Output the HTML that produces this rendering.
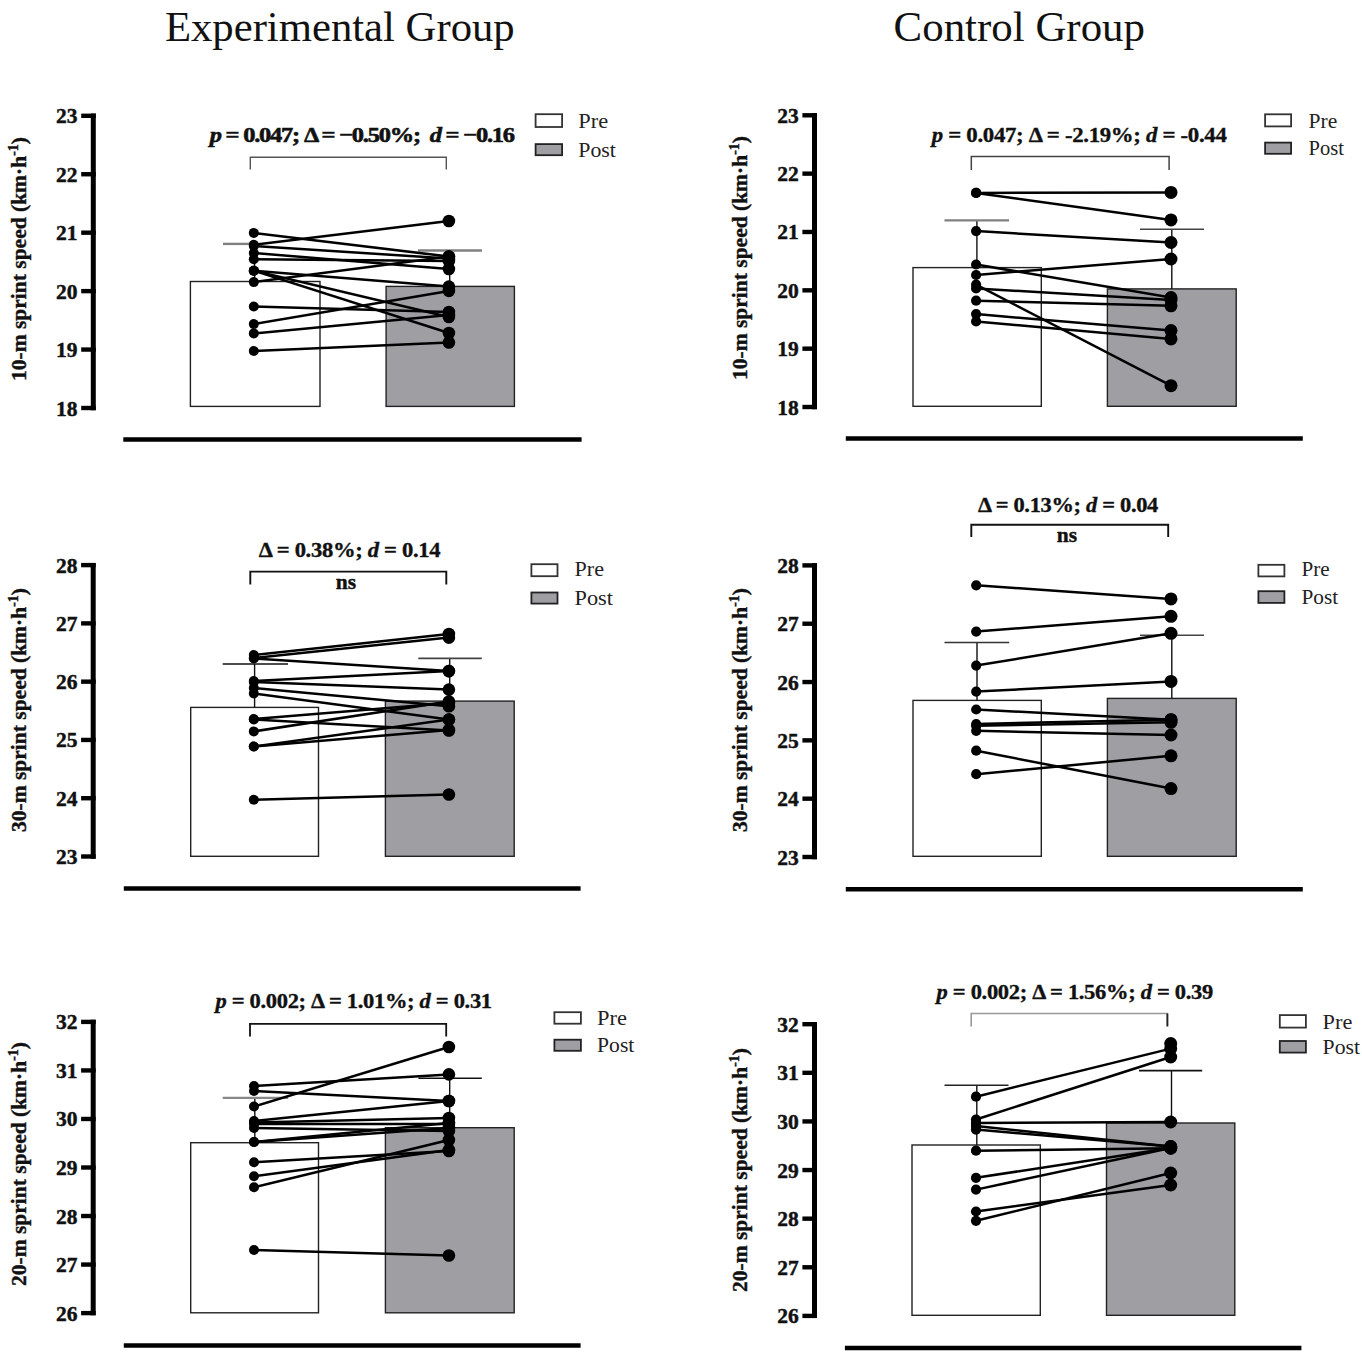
<!DOCTYPE html><html><head><meta charset="utf-8"><title>Sprint speed</title><style>html,body{margin:0;padding:0;background:#fff;width:1362px;height:1352px;overflow:hidden}svg{display:block}text{font-family:"Liberation Serif",serif}</style></head><body>
<svg width="1362" height="1352" viewBox="0 0 1362 1352">
<rect x="0" y="0" width="1362" height="1352" fill="#fff"/>
<text x="164.9" y="40.5" font-size="42.5" textLength="349.8" lengthAdjust="spacingAndGlyphs" fill="#111">Experimental Group</text>
<text x="893.6" y="40.7" font-size="42.5" textLength="251.4" lengthAdjust="spacingAndGlyphs" fill="#111">Control Group</text>
<g><rect x="190.4" y="281.5" width="129.6" height="124.9" fill="#fff" stroke="#222" stroke-width="1.4"/><rect x="386.1" y="286.4" width="128.3" height="120" fill="#9f9ea3" stroke="#222" stroke-width="1.4"/><path d="M254.6 243.9V281.5" stroke="#111" stroke-width="1.4" fill="none"/><path d="M223 243.9H254" stroke="#808080" stroke-width="2.4" fill="none"/><path d="M449.7 250.4V286.4" stroke="#111" stroke-width="1.4" fill="none"/><path d="M418 250.4H482" stroke="#808080" stroke-width="2.5" fill="none"/><line x1="253.8" y1="232.9" x2="448.9" y2="256.6" stroke="#000" stroke-width="2.5"/><line x1="253.8" y1="244.8" x2="448.9" y2="221" stroke="#000" stroke-width="2.5"/><line x1="253.8" y1="246" x2="448.9" y2="258.5" stroke="#000" stroke-width="2.5"/><line x1="253.8" y1="253" x2="448.9" y2="269" stroke="#000" stroke-width="2.5"/><line x1="253.8" y1="259.3" x2="448.9" y2="261" stroke="#000" stroke-width="2.5"/><line x1="253.8" y1="270.7" x2="448.9" y2="286.6" stroke="#000" stroke-width="2.5"/><line x1="253.8" y1="270.7" x2="448.9" y2="317" stroke="#000" stroke-width="2.5"/><line x1="253.8" y1="270.7" x2="448.9" y2="333" stroke="#000" stroke-width="2.5"/><line x1="253.8" y1="282.1" x2="448.9" y2="256.6" stroke="#000" stroke-width="2.5"/><line x1="253.8" y1="306.5" x2="448.9" y2="312" stroke="#000" stroke-width="2.5"/><line x1="253.8" y1="324.1" x2="448.9" y2="290.9" stroke="#000" stroke-width="2.5"/><line x1="253.8" y1="333.4" x2="448.9" y2="315" stroke="#000" stroke-width="2.5"/><line x1="253.8" y1="351" x2="448.9" y2="342.5" stroke="#000" stroke-width="2.5"/><circle cx="253.8" cy="232.9" r="5"/><circle cx="448.9" cy="256.6" r="6.3"/><circle cx="253.8" cy="244.8" r="5"/><circle cx="448.9" cy="221" r="6.3"/><circle cx="253.8" cy="246" r="5"/><circle cx="448.9" cy="258.5" r="6.3"/><circle cx="253.8" cy="253" r="5"/><circle cx="448.9" cy="269" r="6.3"/><circle cx="253.8" cy="259.3" r="5"/><circle cx="448.9" cy="261" r="6.3"/><circle cx="253.8" cy="270.7" r="5"/><circle cx="448.9" cy="286.6" r="6.3"/><circle cx="253.8" cy="270.7" r="5"/><circle cx="448.9" cy="317" r="6.3"/><circle cx="253.8" cy="270.7" r="5"/><circle cx="448.9" cy="333" r="6.3"/><circle cx="253.8" cy="282.1" r="5"/><circle cx="448.9" cy="256.6" r="6.3"/><circle cx="253.8" cy="306.5" r="5"/><circle cx="448.9" cy="312" r="6.3"/><circle cx="253.8" cy="324.1" r="5"/><circle cx="448.9" cy="290.9" r="6.3"/><circle cx="253.8" cy="333.4" r="5"/><circle cx="448.9" cy="315" r="6.3"/><circle cx="253.8" cy="351" r="5"/><circle cx="448.9" cy="342.5" r="6.3"/><path d="M93.3 113.6V410.2" stroke="#000" stroke-width="5" fill="none"/><path d="M81.2 408H95.8" stroke="#000" stroke-width="4.4" fill="none"/><text x="77.5" y="415.5" font-size="21.5" font-weight="bold" text-anchor="end" fill="#111" stroke="#111" stroke-width="0.45">18</text><path d="M81.2 349.56H95.8" stroke="#000" stroke-width="4.4" fill="none"/><text x="77.5" y="357.06" font-size="21.5" font-weight="bold" text-anchor="end" fill="#111" stroke="#111" stroke-width="0.45">19</text><path d="M81.2 291.12H95.8" stroke="#000" stroke-width="4.4" fill="none"/><text x="77.5" y="298.62" font-size="21.5" font-weight="bold" text-anchor="end" fill="#111" stroke="#111" stroke-width="0.45">20</text><path d="M81.2 232.68H95.8" stroke="#000" stroke-width="4.4" fill="none"/><text x="77.5" y="240.18" font-size="21.5" font-weight="bold" text-anchor="end" fill="#111" stroke="#111" stroke-width="0.45">21</text><path d="M81.2 174.24H95.8" stroke="#000" stroke-width="4.4" fill="none"/><text x="77.5" y="181.74" font-size="21.5" font-weight="bold" text-anchor="end" fill="#111" stroke="#111" stroke-width="0.45">22</text><path d="M81.2 115.8H95.8" stroke="#000" stroke-width="4.4" fill="none"/><text x="77.5" y="123.3" font-size="21.5" font-weight="bold" text-anchor="end" fill="#111" stroke="#111" stroke-width="0.45">23</text><text transform="translate(26 259) rotate(-90)" font-size="21.5" font-weight="bold" text-anchor="middle" fill="#111" stroke="#111" stroke-width="0.4">10-m sprint speed (km·h<tspan dy="-8" font-size="14">-1</tspan><tspan dy="8">)</tspan></text><path d="M250.3 169.4V157.3H446.3V169.4" stroke="#555" stroke-width="1.4" fill="none"/><text x="209.7" y="141.5" font-size="22" font-weight="bold" stroke="#111" stroke-width="0.6" letter-spacing="-1.1" textLength="304.1" lengthAdjust="spacingAndGlyphs" fill="#111" xml:space="preserve"><tspan font-style="italic">p</tspan> = 0.047; Δ = −0.50%;  <tspan font-style="italic">d</tspan> = −0.16</text><rect x="535.6" y="114.2" width="26.5" height="12.8" fill="#fff" stroke="#333" stroke-width="1.8"/><rect x="535.6" y="144.1" width="26.5" height="11.1" fill="#9f9ea3" stroke="#222" stroke-width="1.8"/><text x="578.3" y="127.9" font-size="21.5" textLength="29.9" lengthAdjust="spacingAndGlyphs" fill="#222">Pre</text><text x="578.3" y="156.5" font-size="21.5" textLength="37.6" lengthAdjust="spacingAndGlyphs" fill="#222">Post</text><path d="M123.3 439.5H581.6" stroke="#000" stroke-width="4.5" fill="none"/></g>
<g><rect x="913" y="267.6" width="128.3" height="138.7" fill="#fff" stroke="#222" stroke-width="1.4"/><rect x="1107.4" y="288.9" width="128.8" height="117.4" fill="#9f9ea3" stroke="#222" stroke-width="1.4"/><path d="M976.9 220.4V267.6" stroke="#111" stroke-width="1.4" fill="none"/><path d="M944.5 220.4H1009" stroke="#808080" stroke-width="2.3" fill="none"/><path d="M1171.8 229.2V288.9" stroke="#111" stroke-width="1.4" fill="none"/><path d="M1140 229.2H1204" stroke="#444" stroke-width="1.5" fill="none"/><line x1="976.1" y1="192.9" x2="1171" y2="192.4" stroke="#000" stroke-width="2.5"/><line x1="976.1" y1="192.9" x2="1171" y2="219.9" stroke="#000" stroke-width="2.5"/><line x1="976.1" y1="231.1" x2="1171" y2="242.5" stroke="#000" stroke-width="2.5"/><line x1="976.1" y1="264.5" x2="1171" y2="297.6" stroke="#000" stroke-width="2.5"/><line x1="976.1" y1="275" x2="1171" y2="259" stroke="#000" stroke-width="2.5"/><line x1="976.1" y1="284.7" x2="1171" y2="385.7" stroke="#000" stroke-width="2.5"/><line x1="976.1" y1="288.4" x2="1171" y2="300" stroke="#000" stroke-width="2.5"/><line x1="976.1" y1="300.7" x2="1171" y2="305.8" stroke="#000" stroke-width="2.5"/><line x1="976.1" y1="314.1" x2="1171" y2="330.6" stroke="#000" stroke-width="2.5"/><line x1="976.1" y1="321.4" x2="1171" y2="338.9" stroke="#000" stroke-width="2.5"/><circle cx="976.1" cy="192.9" r="5.1"/><circle cx="1171" cy="192.4" r="6.5"/><circle cx="976.1" cy="192.9" r="5.1"/><circle cx="1171" cy="219.9" r="6.5"/><circle cx="976.1" cy="231.1" r="5.1"/><circle cx="1171" cy="242.5" r="6.5"/><circle cx="976.1" cy="264.5" r="5.1"/><circle cx="1171" cy="297.6" r="6.5"/><circle cx="976.1" cy="275" r="5.1"/><circle cx="1171" cy="259" r="6.5"/><circle cx="976.1" cy="284.7" r="5.1"/><circle cx="1171" cy="385.7" r="6.5"/><circle cx="976.1" cy="288.4" r="5.1"/><circle cx="1171" cy="300" r="6.5"/><circle cx="976.1" cy="300.7" r="5.1"/><circle cx="1171" cy="305.8" r="6.5"/><circle cx="976.1" cy="314.1" r="5.1"/><circle cx="1171" cy="330.6" r="6.5"/><circle cx="976.1" cy="321.4" r="5.1"/><circle cx="1171" cy="338.9" r="6.5"/><path d="M814.5 113.1V409.2" stroke="#000" stroke-width="5" fill="none"/><path d="M802.4 407H817" stroke="#000" stroke-width="4.4" fill="none"/><text x="798.7" y="414.5" font-size="21.5" font-weight="bold" text-anchor="end" fill="#111" stroke="#111" stroke-width="0.45">18</text><path d="M802.4 348.66H817" stroke="#000" stroke-width="4.4" fill="none"/><text x="798.7" y="356.16" font-size="21.5" font-weight="bold" text-anchor="end" fill="#111" stroke="#111" stroke-width="0.45">19</text><path d="M802.4 290.32H817" stroke="#000" stroke-width="4.4" fill="none"/><text x="798.7" y="297.82" font-size="21.5" font-weight="bold" text-anchor="end" fill="#111" stroke="#111" stroke-width="0.45">20</text><path d="M802.4 231.98H817" stroke="#000" stroke-width="4.4" fill="none"/><text x="798.7" y="239.48" font-size="21.5" font-weight="bold" text-anchor="end" fill="#111" stroke="#111" stroke-width="0.45">21</text><path d="M802.4 173.64H817" stroke="#000" stroke-width="4.4" fill="none"/><text x="798.7" y="181.14" font-size="21.5" font-weight="bold" text-anchor="end" fill="#111" stroke="#111" stroke-width="0.45">22</text><path d="M802.4 115.3H817" stroke="#000" stroke-width="4.4" fill="none"/><text x="798.7" y="122.8" font-size="21.5" font-weight="bold" text-anchor="end" fill="#111" stroke="#111" stroke-width="0.45">23</text><text transform="translate(746.5 258) rotate(-90)" font-size="21.5" font-weight="bold" text-anchor="middle" fill="#111" stroke="#111" stroke-width="0.4">10-m sprint speed (km·h<tspan dy="-8" font-size="14">-1</tspan><tspan dy="8">)</tspan></text><path d="M971.3 170V156.6H1169.1V170" stroke="#444" stroke-width="1.5" fill="none"/><text x="931.8" y="141.8" font-size="21" font-weight="bold" stroke="#111" stroke-width="0.35" letter-spacing="-0.3" textLength="294.7" lengthAdjust="spacingAndGlyphs" fill="#111" xml:space="preserve"><tspan font-style="italic">p</tspan> = 0.047; Δ = -2.19%; <tspan font-style="italic">d</tspan> = -0.44</text><rect x="1265.1" y="114.3" width="26" height="12.1" fill="#fff" stroke="#333" stroke-width="1.8"/><rect x="1265.1" y="142.6" width="26" height="11.2" fill="#9f9ea3" stroke="#222" stroke-width="1.8"/><text x="1308.5" y="127.8" font-size="21.5" textLength="28.7" lengthAdjust="spacingAndGlyphs" fill="#222">Pre</text><text x="1308.5" y="155.1" font-size="21.5" textLength="35.4" lengthAdjust="spacingAndGlyphs" fill="#222">Post</text><path d="M845.8 438.6H1302.8" stroke="#000" stroke-width="4.5" fill="none"/></g>
<g><rect x="190.7" y="707.4" width="127.8" height="148.9" fill="#fff" stroke="#222" stroke-width="1.4"/><rect x="385.4" y="701.1" width="128.8" height="155.2" fill="#9f9ea3" stroke="#222" stroke-width="1.4"/><path d="M254.6 664V707.4" stroke="#111" stroke-width="1.4" fill="none"/><path d="M222.7 664H288" stroke="#111" stroke-width="1.5" fill="none"/><path d="M449.7 658.4V701.1" stroke="#111" stroke-width="1.4" fill="none"/><path d="M418.3 658.4H481.8" stroke="#444" stroke-width="1.6" fill="none"/><line x1="253.8" y1="655" x2="448.9" y2="634" stroke="#000" stroke-width="2.5"/><line x1="253.8" y1="658" x2="448.9" y2="637.6" stroke="#000" stroke-width="2.5"/><line x1="253.8" y1="658.5" x2="448.9" y2="671.1" stroke="#000" stroke-width="2.5"/><line x1="253.8" y1="681" x2="448.9" y2="671.1" stroke="#000" stroke-width="2.5"/><line x1="253.8" y1="682" x2="448.9" y2="689.6" stroke="#000" stroke-width="2.5"/><line x1="253.8" y1="688" x2="448.9" y2="706.3" stroke="#000" stroke-width="2.5"/><line x1="253.8" y1="693.5" x2="448.9" y2="719.6" stroke="#000" stroke-width="2.5"/><line x1="253.8" y1="719" x2="448.9" y2="703" stroke="#000" stroke-width="2.5"/><line x1="253.8" y1="719.5" x2="448.9" y2="730.5" stroke="#000" stroke-width="2.5"/><line x1="253.8" y1="731.4" x2="448.9" y2="701.5" stroke="#000" stroke-width="2.5"/><line x1="253.8" y1="746.5" x2="448.9" y2="719.6" stroke="#000" stroke-width="2.5"/><line x1="253.8" y1="746.5" x2="448.9" y2="730" stroke="#000" stroke-width="2.5"/><line x1="253.8" y1="799.7" x2="448.9" y2="794.5" stroke="#000" stroke-width="2.5"/><circle cx="253.8" cy="655" r="5"/><circle cx="448.9" cy="634" r="6.3"/><circle cx="253.8" cy="658" r="5"/><circle cx="448.9" cy="637.6" r="6.3"/><circle cx="253.8" cy="658.5" r="5"/><circle cx="448.9" cy="671.1" r="6.3"/><circle cx="253.8" cy="681" r="5"/><circle cx="448.9" cy="671.1" r="6.3"/><circle cx="253.8" cy="682" r="5"/><circle cx="448.9" cy="689.6" r="6.3"/><circle cx="253.8" cy="688" r="5"/><circle cx="448.9" cy="706.3" r="6.3"/><circle cx="253.8" cy="693.5" r="5"/><circle cx="448.9" cy="719.6" r="6.3"/><circle cx="253.8" cy="719" r="5"/><circle cx="448.9" cy="703" r="6.3"/><circle cx="253.8" cy="719.5" r="5"/><circle cx="448.9" cy="730.5" r="6.3"/><circle cx="253.8" cy="731.4" r="5"/><circle cx="448.9" cy="701.5" r="6.3"/><circle cx="253.8" cy="746.5" r="5"/><circle cx="448.9" cy="719.6" r="6.3"/><circle cx="253.8" cy="746.5" r="5"/><circle cx="448.9" cy="730" r="6.3"/><circle cx="253.8" cy="799.7" r="5"/><circle cx="448.9" cy="794.5" r="6.3"/><path d="M93.2 562.9V858.7" stroke="#000" stroke-width="5" fill="none"/><path d="M81.1 856.5H95.7" stroke="#000" stroke-width="4.4" fill="none"/><text x="77.4" y="864" font-size="21.5" font-weight="bold" text-anchor="end" fill="#111" stroke="#111" stroke-width="0.45">23</text><path d="M81.1 798.22H95.7" stroke="#000" stroke-width="4.4" fill="none"/><text x="77.4" y="805.72" font-size="21.5" font-weight="bold" text-anchor="end" fill="#111" stroke="#111" stroke-width="0.45">24</text><path d="M81.1 739.94H95.7" stroke="#000" stroke-width="4.4" fill="none"/><text x="77.4" y="747.44" font-size="21.5" font-weight="bold" text-anchor="end" fill="#111" stroke="#111" stroke-width="0.45">25</text><path d="M81.1 681.66H95.7" stroke="#000" stroke-width="4.4" fill="none"/><text x="77.4" y="689.16" font-size="21.5" font-weight="bold" text-anchor="end" fill="#111" stroke="#111" stroke-width="0.45">26</text><path d="M81.1 623.38H95.7" stroke="#000" stroke-width="4.4" fill="none"/><text x="77.4" y="630.88" font-size="21.5" font-weight="bold" text-anchor="end" fill="#111" stroke="#111" stroke-width="0.45">27</text><path d="M81.1 565.1H95.7" stroke="#000" stroke-width="4.4" fill="none"/><text x="77.4" y="572.6" font-size="21.5" font-weight="bold" text-anchor="end" fill="#111" stroke="#111" stroke-width="0.45">28</text><text transform="translate(26 710) rotate(-90)" font-size="21.5" font-weight="bold" text-anchor="middle" fill="#111" stroke="#111" stroke-width="0.4">30-m sprint speed (km·h<tspan dy="-8" font-size="14">-1</tspan><tspan dy="8">)</tspan></text><path d="M250.3 584.6V571.6H446.3V584.6" stroke="#111" stroke-width="1.9" fill="none"/><text x="258.8" y="557.2" font-size="21" font-weight="bold" stroke="#111" stroke-width="0.35" letter-spacing="-0.3" textLength="181.5" lengthAdjust="spacingAndGlyphs" fill="#111" xml:space="preserve">Δ = 0.38%; <tspan font-style="italic">d</tspan> = 0.14</text><text x="346" y="588.9" font-size="21.5" font-weight="bold" stroke="#111" stroke-width="0.4" text-anchor="middle" fill="#111">ns</text><rect x="531.4" y="564.2" width="26.1" height="12" fill="#fff" stroke="#333" stroke-width="1.8"/><rect x="531.4" y="592.5" width="26.1" height="11.1" fill="#9f9ea3" stroke="#222" stroke-width="1.8"/><text x="574.5" y="576.3" font-size="21.5" textLength="29.5" lengthAdjust="spacingAndGlyphs" fill="#222">Pre</text><text x="574.5" y="604.5" font-size="21.5" textLength="38.4" lengthAdjust="spacingAndGlyphs" fill="#222">Post</text><path d="M123.8 888.4H580.6" stroke="#000" stroke-width="4.5" fill="none"/></g>
<g><rect x="913" y="700.4" width="128.3" height="155.9" fill="#fff" stroke="#222" stroke-width="1.4"/><rect x="1107.4" y="698.4" width="128.8" height="157.9" fill="#9f9ea3" stroke="#222" stroke-width="1.4"/><path d="M977 642.5V700.4" stroke="#111" stroke-width="1.4" fill="none"/><path d="M944.5 642.5H1009.2" stroke="#333" stroke-width="1.6" fill="none"/><path d="M1171.8 635.2V698.4" stroke="#111" stroke-width="1.4" fill="none"/><path d="M1140 635.2H1204" stroke="#444" stroke-width="1.5" fill="none"/><line x1="976.2" y1="585.3" x2="1171" y2="598.9" stroke="#000" stroke-width="2.5"/><line x1="976.2" y1="631.6" x2="1171" y2="616.3" stroke="#000" stroke-width="2.5"/><line x1="976.2" y1="665.6" x2="1171" y2="633.3" stroke="#000" stroke-width="2.5"/><line x1="976.2" y1="691.6" x2="1171" y2="681.4" stroke="#000" stroke-width="2.5"/><line x1="976.2" y1="709.5" x2="1171" y2="719.7" stroke="#000" stroke-width="2.5"/><line x1="976.2" y1="724" x2="1171" y2="719.7" stroke="#000" stroke-width="2.5"/><line x1="976.2" y1="725.7" x2="1171" y2="722.3" stroke="#000" stroke-width="2.5"/><line x1="976.2" y1="730.8" x2="1171" y2="735" stroke="#000" stroke-width="2.5"/><line x1="976.2" y1="750.7" x2="1171" y2="788.6" stroke="#000" stroke-width="2.5"/><line x1="976.2" y1="774.2" x2="1171" y2="755.8" stroke="#000" stroke-width="2.5"/><circle cx="976.2" cy="585.3" r="5.1"/><circle cx="1171" cy="598.9" r="6.5"/><circle cx="976.2" cy="631.6" r="5.1"/><circle cx="1171" cy="616.3" r="6.5"/><circle cx="976.2" cy="665.6" r="5.1"/><circle cx="1171" cy="633.3" r="6.5"/><circle cx="976.2" cy="691.6" r="5.1"/><circle cx="1171" cy="681.4" r="6.5"/><circle cx="976.2" cy="709.5" r="5.1"/><circle cx="1171" cy="719.7" r="6.5"/><circle cx="976.2" cy="724" r="5.1"/><circle cx="1171" cy="719.7" r="6.5"/><circle cx="976.2" cy="725.7" r="5.1"/><circle cx="1171" cy="722.3" r="6.5"/><circle cx="976.2" cy="730.8" r="5.1"/><circle cx="1171" cy="735" r="6.5"/><circle cx="976.2" cy="750.7" r="5.1"/><circle cx="1171" cy="788.6" r="6.5"/><circle cx="976.2" cy="774.2" r="5.1"/><circle cx="1171" cy="755.8" r="6.5"/><path d="M814.5 563.2V859.2" stroke="#000" stroke-width="5" fill="none"/><path d="M802.4 857H817" stroke="#000" stroke-width="4.4" fill="none"/><text x="798.7" y="864.5" font-size="21.5" font-weight="bold" text-anchor="end" fill="#111" stroke="#111" stroke-width="0.45">23</text><path d="M802.4 798.68H817" stroke="#000" stroke-width="4.4" fill="none"/><text x="798.7" y="806.18" font-size="21.5" font-weight="bold" text-anchor="end" fill="#111" stroke="#111" stroke-width="0.45">24</text><path d="M802.4 740.36H817" stroke="#000" stroke-width="4.4" fill="none"/><text x="798.7" y="747.86" font-size="21.5" font-weight="bold" text-anchor="end" fill="#111" stroke="#111" stroke-width="0.45">25</text><path d="M802.4 682.04H817" stroke="#000" stroke-width="4.4" fill="none"/><text x="798.7" y="689.54" font-size="21.5" font-weight="bold" text-anchor="end" fill="#111" stroke="#111" stroke-width="0.45">26</text><path d="M802.4 623.72H817" stroke="#000" stroke-width="4.4" fill="none"/><text x="798.7" y="631.22" font-size="21.5" font-weight="bold" text-anchor="end" fill="#111" stroke="#111" stroke-width="0.45">27</text><path d="M802.4 565.4H817" stroke="#000" stroke-width="4.4" fill="none"/><text x="798.7" y="572.9" font-size="21.5" font-weight="bold" text-anchor="end" fill="#111" stroke="#111" stroke-width="0.45">28</text><text transform="translate(746.5 710) rotate(-90)" font-size="21.5" font-weight="bold" text-anchor="middle" fill="#111" stroke="#111" stroke-width="0.4">30-m sprint speed (km·h<tspan dy="-8" font-size="14">-1</tspan><tspan dy="8">)</tspan></text><path d="M971.3 536.9V524.7H1168.2V536.9" stroke="#111" stroke-width="1.9" fill="none"/><text x="977.9" y="512.4" font-size="21" font-weight="bold" stroke="#111" stroke-width="0.35" letter-spacing="-0.3" textLength="180.1" lengthAdjust="spacingAndGlyphs" fill="#111" xml:space="preserve">Δ = 0.13%; <tspan font-style="italic">d</tspan> = 0.04</text><text x="1067" y="542.2" font-size="21.5" font-weight="bold" stroke="#111" stroke-width="0.4" text-anchor="middle" fill="#111">ns</text><rect x="1258.4" y="564.8" width="26" height="11.6" fill="#fff" stroke="#333" stroke-width="1.8"/><rect x="1258.4" y="591.2" width="26" height="11.7" fill="#9f9ea3" stroke="#222" stroke-width="1.8"/><text x="1301.4" y="576.4" font-size="21.5" textLength="28.2" lengthAdjust="spacingAndGlyphs" fill="#222">Pre</text><text x="1301.4" y="603.8" font-size="21.5" textLength="36.7" lengthAdjust="spacingAndGlyphs" fill="#222">Post</text><path d="M845.8 889.3H1302.8" stroke="#000" stroke-width="4.5" fill="none"/></g>
<g><rect x="190.7" y="1142.7" width="127.8" height="170.1" fill="#fff" stroke="#222" stroke-width="1.4"/><rect x="385.4" y="1127.7" width="128.8" height="185.1" fill="#9f9ea3" stroke="#222" stroke-width="1.4"/><path d="M254.8 1097.8V1142.7" stroke="#111" stroke-width="1.4" fill="none"/><path d="M222.7 1097.8H288.1" stroke="#888" stroke-width="2.3" fill="none"/><path d="M449.7 1078.3V1127.7" stroke="#111" stroke-width="1.4" fill="none"/><path d="M418.4 1078.3H481.8" stroke="#111" stroke-width="1.6" fill="none"/><line x1="254" y1="1086" x2="448.9" y2="1074.4" stroke="#000" stroke-width="2.5"/><line x1="254" y1="1091" x2="448.9" y2="1101" stroke="#000" stroke-width="2.5"/><line x1="254" y1="1106.5" x2="448.9" y2="1047" stroke="#000" stroke-width="2.5"/><line x1="254" y1="1121" x2="448.9" y2="1101" stroke="#000" stroke-width="2.5"/><line x1="254" y1="1122.5" x2="448.9" y2="1118" stroke="#000" stroke-width="2.5"/><line x1="254" y1="1124" x2="448.9" y2="1124" stroke="#000" stroke-width="2.5"/><line x1="254" y1="1128" x2="448.9" y2="1131" stroke="#000" stroke-width="2.5"/><line x1="254" y1="1142" x2="448.9" y2="1123" stroke="#000" stroke-width="2.5"/><line x1="254" y1="1142" x2="448.9" y2="1128" stroke="#000" stroke-width="2.5"/><line x1="254" y1="1162.3" x2="448.9" y2="1151" stroke="#000" stroke-width="2.5"/><line x1="254" y1="1176.3" x2="448.9" y2="1150" stroke="#000" stroke-width="2.5"/><line x1="254" y1="1187.3" x2="448.9" y2="1140" stroke="#000" stroke-width="2.5"/><line x1="254" y1="1250" x2="448.9" y2="1255.5" stroke="#000" stroke-width="2.5"/><circle cx="254" cy="1086" r="5"/><circle cx="448.9" cy="1074.4" r="6.3"/><circle cx="254" cy="1091" r="5"/><circle cx="448.9" cy="1101" r="6.3"/><circle cx="254" cy="1106.5" r="5"/><circle cx="448.9" cy="1047" r="6.3"/><circle cx="254" cy="1121" r="5"/><circle cx="448.9" cy="1101" r="6.3"/><circle cx="254" cy="1122.5" r="5"/><circle cx="448.9" cy="1118" r="6.3"/><circle cx="254" cy="1124" r="5"/><circle cx="448.9" cy="1124" r="6.3"/><circle cx="254" cy="1128" r="5"/><circle cx="448.9" cy="1131" r="6.3"/><circle cx="254" cy="1142" r="5"/><circle cx="448.9" cy="1123" r="6.3"/><circle cx="254" cy="1142" r="5"/><circle cx="448.9" cy="1128" r="6.3"/><circle cx="254" cy="1162.3" r="5"/><circle cx="448.9" cy="1151" r="6.3"/><circle cx="254" cy="1176.3" r="5"/><circle cx="448.9" cy="1150" r="6.3"/><circle cx="254" cy="1187.3" r="5"/><circle cx="448.9" cy="1140" r="6.3"/><circle cx="254" cy="1250" r="5"/><circle cx="448.9" cy="1255.5" r="6.3"/><path d="M93.2 1019.7V1315.3" stroke="#000" stroke-width="5" fill="none"/><path d="M81.1 1313.1H95.7" stroke="#000" stroke-width="4.4" fill="none"/><text x="77.4" y="1320.6" font-size="21.5" font-weight="bold" text-anchor="end" fill="#111" stroke="#111" stroke-width="0.45">26</text><path d="M81.1 1264.57H95.7" stroke="#000" stroke-width="4.4" fill="none"/><text x="77.4" y="1272.07" font-size="21.5" font-weight="bold" text-anchor="end" fill="#111" stroke="#111" stroke-width="0.45">27</text><path d="M81.1 1216.03H95.7" stroke="#000" stroke-width="4.4" fill="none"/><text x="77.4" y="1223.53" font-size="21.5" font-weight="bold" text-anchor="end" fill="#111" stroke="#111" stroke-width="0.45">28</text><path d="M81.1 1167.5H95.7" stroke="#000" stroke-width="4.4" fill="none"/><text x="77.4" y="1175" font-size="21.5" font-weight="bold" text-anchor="end" fill="#111" stroke="#111" stroke-width="0.45">29</text><path d="M81.1 1118.97H95.7" stroke="#000" stroke-width="4.4" fill="none"/><text x="77.4" y="1126.47" font-size="21.5" font-weight="bold" text-anchor="end" fill="#111" stroke="#111" stroke-width="0.45">30</text><path d="M81.1 1070.43H95.7" stroke="#000" stroke-width="4.4" fill="none"/><text x="77.4" y="1077.93" font-size="21.5" font-weight="bold" text-anchor="end" fill="#111" stroke="#111" stroke-width="0.45">31</text><path d="M81.1 1021.9H95.7" stroke="#000" stroke-width="4.4" fill="none"/><text x="77.4" y="1029.4" font-size="21.5" font-weight="bold" text-anchor="end" fill="#111" stroke="#111" stroke-width="0.45">32</text><text transform="translate(26 1164) rotate(-90)" font-size="21.5" font-weight="bold" text-anchor="middle" fill="#111" stroke="#111" stroke-width="0.4">20-m sprint speed (km·h<tspan dy="-8" font-size="14">-1</tspan><tspan dy="8">)</tspan></text><path d="M250 1036.4V1023.9H446.2V1036.4" stroke="#111" stroke-width="1.8" fill="none"/><text x="215.5" y="1008.2" font-size="21" font-weight="bold" stroke="#111" stroke-width="0.35" letter-spacing="-0.3" textLength="276.3" lengthAdjust="spacingAndGlyphs" fill="#111" xml:space="preserve"><tspan font-style="italic">p</tspan> = 0.002; Δ = 1.01%; <tspan font-style="italic">d</tspan> = 0.31</text><rect x="554.4" y="1012.2" width="26.5" height="11.5" fill="#fff" stroke="#333" stroke-width="1.8"/><rect x="554.4" y="1039.7" width="26.5" height="11.1" fill="#9f9ea3" stroke="#222" stroke-width="1.8"/><text x="597.1" y="1024.6" font-size="21.5" textLength="29.9" lengthAdjust="spacingAndGlyphs" fill="#222">Pre</text><text x="597.1" y="1051.7" font-size="21.5" textLength="37.2" lengthAdjust="spacingAndGlyphs" fill="#222">Post</text><path d="M123.8 1345.4H580.6" stroke="#000" stroke-width="4.5" fill="none"/></g>
<g><rect x="912" y="1145" width="128.3" height="170.3" fill="#fff" stroke="#222" stroke-width="1.4"/><rect x="1106.5" y="1123" width="128.3" height="192.3" fill="#9f9ea3" stroke="#222" stroke-width="1.4"/><path d="M976.8 1085.3V1145" stroke="#111" stroke-width="1.4" fill="none"/><path d="M944.5 1085.3H1008.5" stroke="#222" stroke-width="1.5" fill="none"/><path d="M1171.5 1070.6V1123" stroke="#111" stroke-width="1.4" fill="none"/><path d="M1139 1070.6H1202.2" stroke="#111" stroke-width="1.6" fill="none"/><line x1="976" y1="1096.7" x2="1170.7" y2="1048.6" stroke="#000" stroke-width="2.5"/><line x1="976" y1="1119.5" x2="1170.7" y2="1057" stroke="#000" stroke-width="2.5"/><line x1="976" y1="1122.9" x2="1170.7" y2="1122" stroke="#000" stroke-width="2.5"/><line x1="976" y1="1126" x2="1170.7" y2="1146.5" stroke="#000" stroke-width="2.5"/><line x1="976" y1="1129.6" x2="1170.7" y2="1146.5" stroke="#000" stroke-width="2.5"/><line x1="976" y1="1150.7" x2="1170.7" y2="1148.2" stroke="#000" stroke-width="2.5"/><line x1="976" y1="1177.8" x2="1170.7" y2="1148" stroke="#000" stroke-width="2.5"/><line x1="976" y1="1189.6" x2="1170.7" y2="1148" stroke="#000" stroke-width="2.5"/><line x1="976" y1="1211.5" x2="1170.7" y2="1185" stroke="#000" stroke-width="2.5"/><line x1="976" y1="1220.8" x2="1170.7" y2="1173" stroke="#000" stroke-width="2.5"/><circle cx="976" cy="1096.7" r="5.1"/><circle cx="1170.7" cy="1048.6" r="6.5"/><circle cx="976" cy="1119.5" r="5.1"/><circle cx="1170.7" cy="1057" r="6.5"/><circle cx="976" cy="1122.9" r="5.1"/><circle cx="1170.7" cy="1122" r="6.5"/><circle cx="976" cy="1126" r="5.1"/><circle cx="1170.7" cy="1146.5" r="6.5"/><circle cx="976" cy="1129.6" r="5.1"/><circle cx="1170.7" cy="1146.5" r="6.5"/><circle cx="976" cy="1150.7" r="5.1"/><circle cx="1170.7" cy="1148.2" r="6.5"/><circle cx="976" cy="1177.8" r="5.1"/><circle cx="1170.7" cy="1148" r="6.5"/><circle cx="976" cy="1189.6" r="5.1"/><circle cx="1170.7" cy="1148" r="6.5"/><circle cx="976" cy="1211.5" r="5.1"/><circle cx="1170.7" cy="1185" r="6.5"/><circle cx="976" cy="1220.8" r="5.1"/><circle cx="1170.7" cy="1173" r="6.5"/><circle cx="1170.7" cy="1043.5" r="6.5"/><path d="M814.5 1022V1318.1" stroke="#000" stroke-width="5" fill="none"/><path d="M802.4 1315.9H817" stroke="#000" stroke-width="4.4" fill="none"/><text x="798.7" y="1323.4" font-size="21.5" font-weight="bold" text-anchor="end" fill="#111" stroke="#111" stroke-width="0.45">26</text><path d="M802.4 1267.28H817" stroke="#000" stroke-width="4.4" fill="none"/><text x="798.7" y="1274.78" font-size="21.5" font-weight="bold" text-anchor="end" fill="#111" stroke="#111" stroke-width="0.45">27</text><path d="M802.4 1218.67H817" stroke="#000" stroke-width="4.4" fill="none"/><text x="798.7" y="1226.17" font-size="21.5" font-weight="bold" text-anchor="end" fill="#111" stroke="#111" stroke-width="0.45">28</text><path d="M802.4 1170.05H817" stroke="#000" stroke-width="4.4" fill="none"/><text x="798.7" y="1177.55" font-size="21.5" font-weight="bold" text-anchor="end" fill="#111" stroke="#111" stroke-width="0.45">29</text><path d="M802.4 1121.43H817" stroke="#000" stroke-width="4.4" fill="none"/><text x="798.7" y="1128.93" font-size="21.5" font-weight="bold" text-anchor="end" fill="#111" stroke="#111" stroke-width="0.45">30</text><path d="M802.4 1072.82H817" stroke="#000" stroke-width="4.4" fill="none"/><text x="798.7" y="1080.32" font-size="21.5" font-weight="bold" text-anchor="end" fill="#111" stroke="#111" stroke-width="0.45">31</text><path d="M802.4 1024.2H817" stroke="#000" stroke-width="4.4" fill="none"/><text x="798.7" y="1031.7" font-size="21.5" font-weight="bold" text-anchor="end" fill="#111" stroke="#111" stroke-width="0.45">32</text><text transform="translate(746.5 1170) rotate(-90)" font-size="21.5" font-weight="bold" text-anchor="middle" fill="#111" stroke="#111" stroke-width="0.4">20-m sprint speed (km·h<tspan dy="-8" font-size="14">-1</tspan><tspan dy="8">)</tspan></text><path d="M971.2 1026.4V1013.5H1167.4V1026.4" stroke="#999" stroke-width="1.6" fill="none"/><path d="M1167.4 1013.5V1026.4" stroke="#222" stroke-width="1.8" fill="none"/><text x="936.6" y="998.7" font-size="21" font-weight="bold" stroke="#111" stroke-width="0.35" letter-spacing="-0.3" textLength="276.3" lengthAdjust="spacingAndGlyphs" fill="#111" xml:space="preserve"><tspan font-style="italic">p</tspan> = 0.002; Δ = 1.56%; <tspan font-style="italic">d</tspan> = 0.39</text><rect x="1279.8" y="1015.1" width="26.1" height="12.5" fill="#fff" stroke="#333" stroke-width="1.8"/><rect x="1279.8" y="1041" width="26.1" height="11.6" fill="#9f9ea3" stroke="#222" stroke-width="1.8"/><text x="1322.6" y="1028.5" font-size="21.5" textLength="29.7" lengthAdjust="spacingAndGlyphs" fill="#222">Pre</text><text x="1322.6" y="1053.5" font-size="21.5" textLength="37.4" lengthAdjust="spacingAndGlyphs" fill="#222">Post</text><path d="M844.9 1348H1301.4" stroke="#000" stroke-width="4.5" fill="none"/></g>
</svg></body></html>
